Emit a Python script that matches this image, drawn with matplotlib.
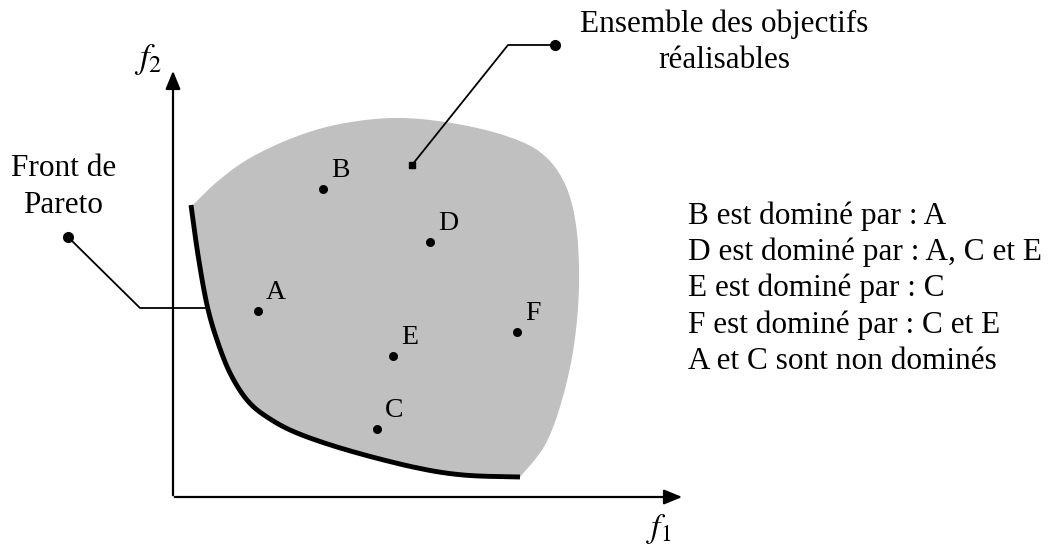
import matplotlib.pyplot as plt
import numpy as np

# points du diagramme (coordonnees en pixels de l'image)
noms = ['A', 'B', 'C', 'D', 'E', 'F']
px = [258, 323, 377, 430, 393, 517]
py = [311, 189, 429, 242, 356, 332]

# contour de l'ensemble realisable (haut et droite)
bord_x = [193, 218, 250, 295, 340, 393, 445, 500, 540, 564, 576, 579, 574, 562, 545, 520]
bord_y = [205, 181, 158, 137, 124, 118, 122, 134, 152, 182, 225, 285, 345, 400, 445, 477]
# front de Pareto (bas gauche)
front_x = [520, 463, 413, 347, 297, 267, 247, 230, 217, 207, 198, 191]
front_y = [477, 475, 467, 450, 433, 417, 400, 373, 340, 305, 255, 205]

texte_droite = ['B est dominé par : A',
                'D est dominé par : A, C et E',
                'E est dominé par : C',
                'F est dominé par : C et E',
                'A et C sont non dominés']


def lisse(x, y, n=12):
    # courbe catmull-rom passant par les points
    x = np.array(x, float)
    y = np.array(y, float)
    P = np.column_stack([x, y])
    P = np.vstack([P[0], P, P[-1]])
    out = []
    for i in range(1, len(P) - 2):
        p0, p1, p2, p3 = P[i - 1], P[i], P[i + 1], P[i + 2]
        for t in np.linspace(0, 1, n, endpoint=False):
            out.append(0.5 * ((2 * p1) + (-p0 + p2) * t
                              + (2 * p0 - 5 * p1 + 4 * p2 - p3) * t ** 2
                              + (-p0 + 3 * p1 - 3 * p2 + p3) * t ** 3))
    out.append(P[-2])
    out = np.array(out)
    return out[:, 0], out[:, 1]


plt.rcParams['font.family'] = ['Liberation Serif', 'DejaVu Serif']
fig = plt.figure(figsize=(10.56, 5.47), dpi=100)
ax = fig.add_axes([0, 0, 1, 1])
ax.set_xlim(0, 1056)
ax.set_ylim(547, 0)
ax.axis('off')

bx, by = lisse(bord_x, bord_y)
fx, fy = lisse(front_x, front_y)
ax.fill(np.concatenate([bx, fx]), np.concatenate([by, fy]), color='#c0c0c0', lw=0, zorder=1)
ax.plot(fx, fy, color='black', lw=3.5, solid_capstyle='butt', zorder=3)

# axes f1 f2
ax.annotate('', xy=(173, 68), xytext=(173, 498),
            arrowprops=dict(arrowstyle='-|>,head_length=1.1,head_width=0.45', color='black', lw=1.6),
            zorder=2)
ax.annotate('', xy=(685, 497), xytext=(172, 497),
            arrowprops=dict(arrowstyle='-|>,head_length=1.1,head_width=0.45', color='black', lw=1.6),
            zorder=2)
ax.text(148, 68, r'$f_2$', fontsize=25, ha='center', va='baseline',
        math_fontfamily='stix')
ax.text(659, 537, r'$f_1$', fontsize=24, ha='center', va='baseline',
        math_fontfamily='stix')

# points
ax.scatter(px, py, s=30, color='black', zorder=4)
for n, x, y in zip(noms, px, py):
    ax.text(x + 8, y - 12, n, fontsize=20, ha='left', va='baseline', zorder=4)

# legende Front de Pareto
ax.plot([68, 140, 207], [237, 308, 308], color='black', lw=1.3, zorder=2)
ax.plot(68, 237, 'o', color='black', ms=7)
ax.text(64, 176, 'Front de', fontsize=22.5, ha='center', va='baseline')
ax.text(63, 213, 'Pareto', fontsize=22.5, ha='center', va='baseline')

# legende ensemble realisable
ax.plot([555, 508, 412], [45, 45, 165], color='black', lw=1.3, zorder=2)
ax.plot(555, 45, 'o', color='black', ms=7)
ax.plot(412, 165, 's', color='black', ms=4)
ax.text(724, 32, 'Ensemble des objectifs', fontsize=22.5, ha='center', va='baseline')
ax.text(724, 68, 'réalisables', fontsize=22.5, ha='center', va='baseline')

# texte a droite
for i, t in enumerate(texte_droite):
    ax.text(688, 224 + i * 36.2, t, fontsize=22.5, ha='left', va='baseline')

fig.savefig('out.png', dpi=100)
